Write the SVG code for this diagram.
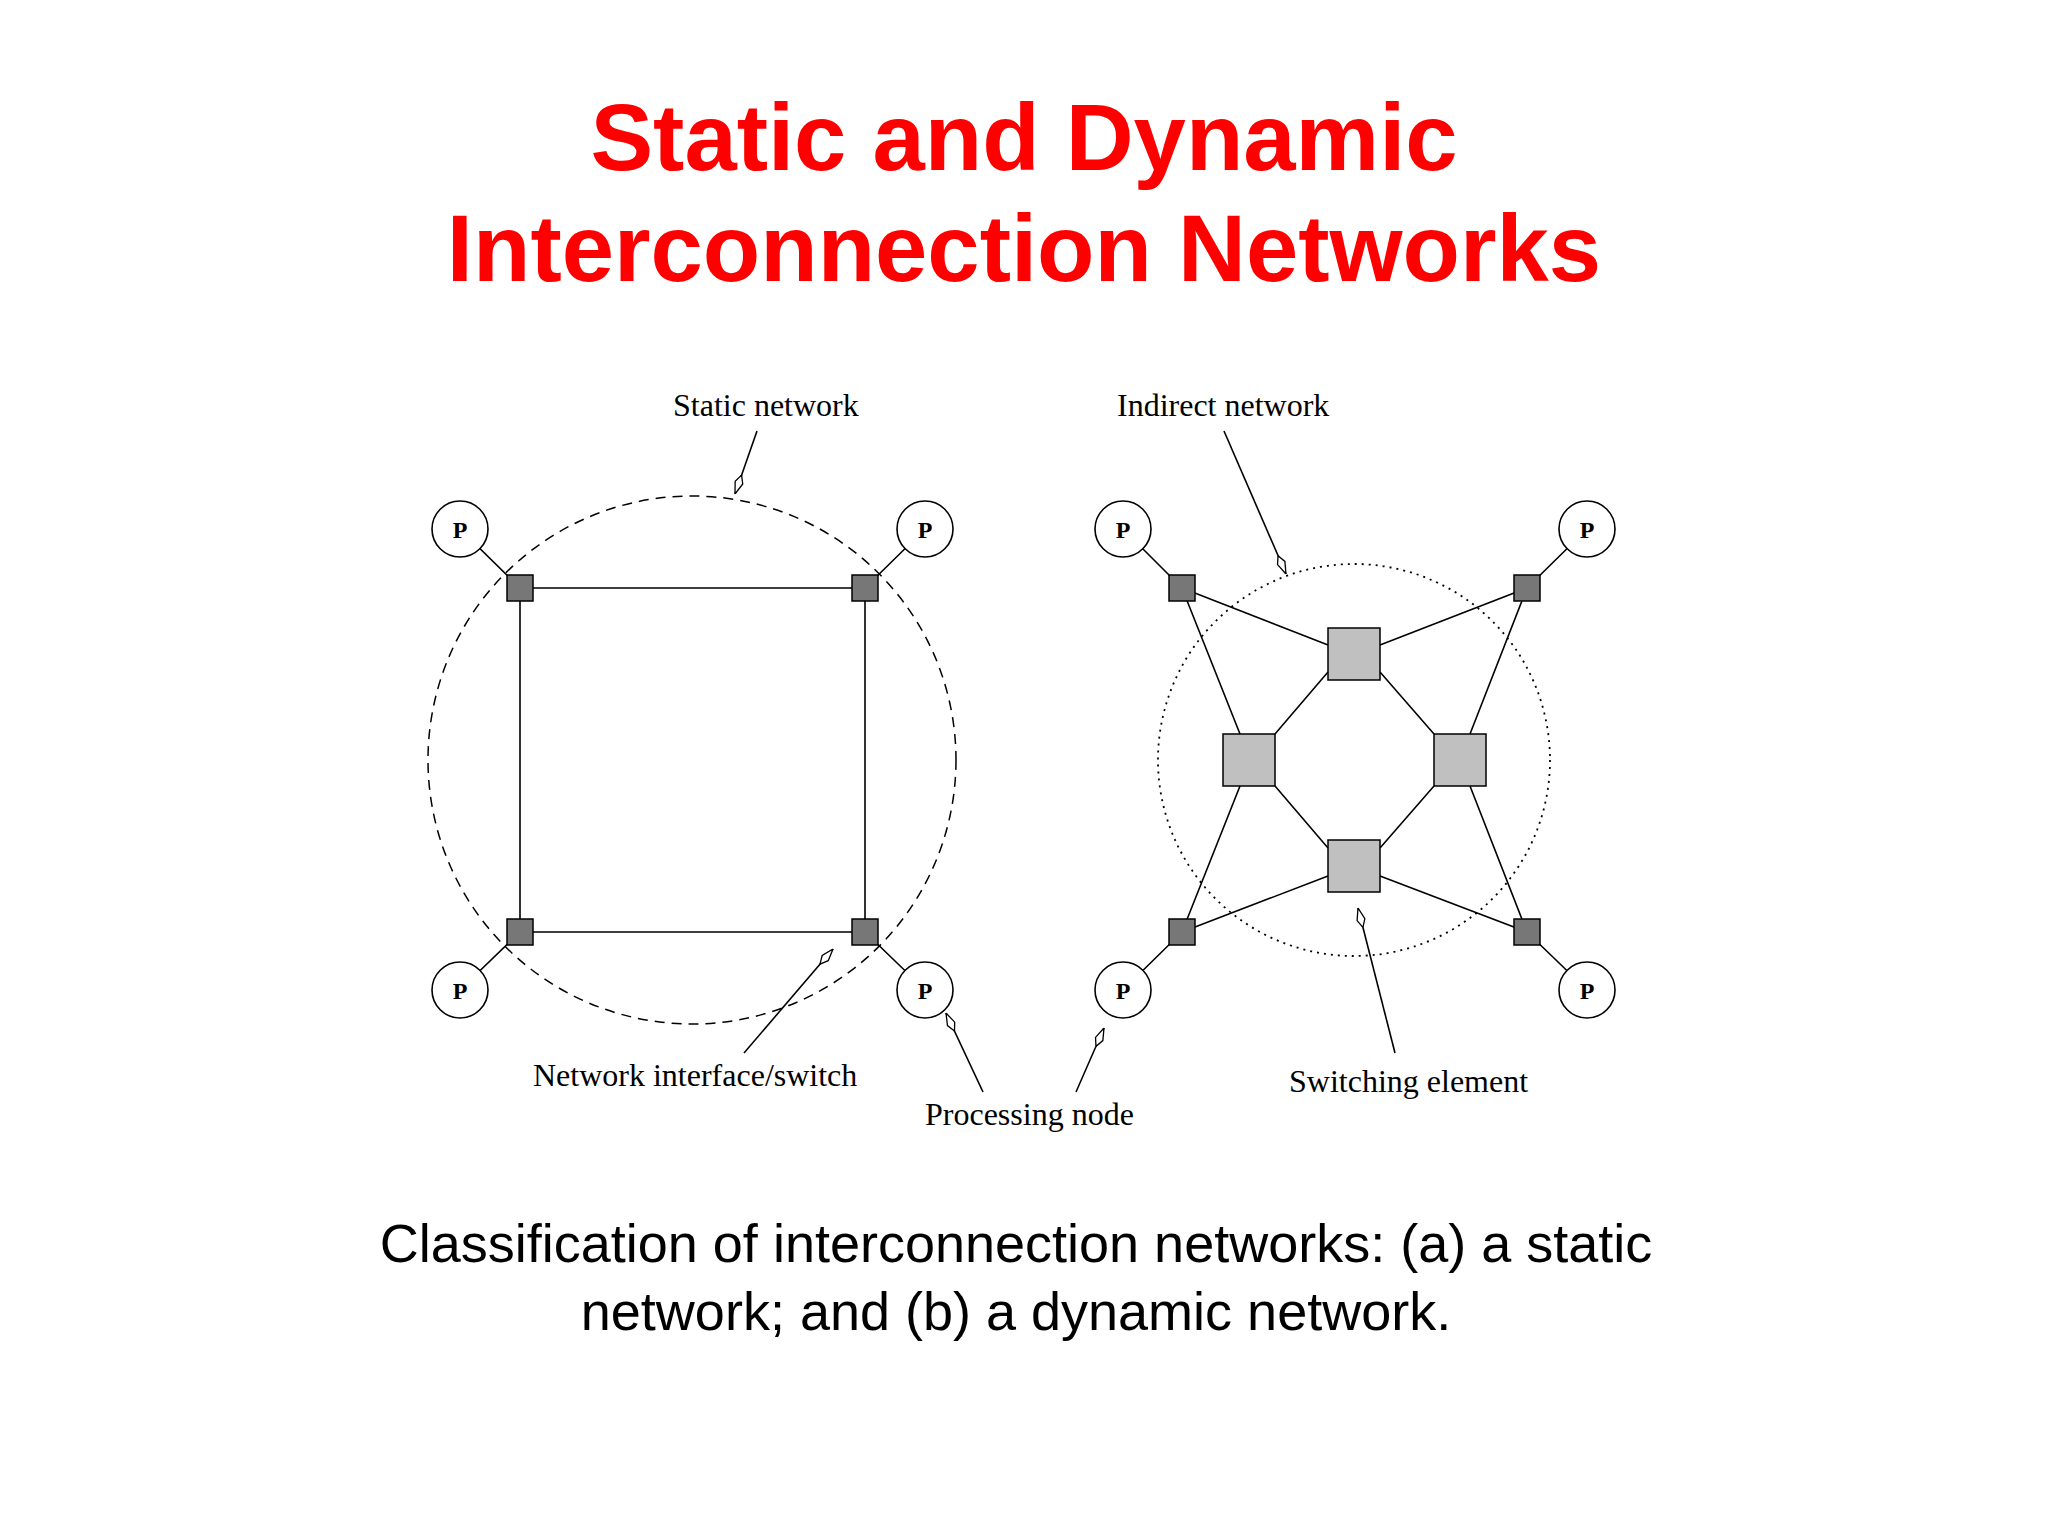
<svg xmlns="http://www.w3.org/2000/svg" width="2048" height="1536" viewBox="0 0 2048 1536">
<style>
.t{font-family:"Liberation Sans",Arial,sans-serif;font-weight:bold;font-size:94px;fill:#ff0000;text-anchor:middle}
.c{font-family:"Liberation Sans",Arial,sans-serif;font-size:54px;fill:#000;text-anchor:middle}
.l{font-family:"Liberation Serif","Times New Roman",serif;font-size:32px;fill:#000}
.p{font-family:"Liberation Serif","Times New Roman",serif;font-size:24px;font-weight:bold;fill:#000;text-anchor:middle}
.ln{stroke:#000;stroke-width:1.6;fill:none}
.sq{fill:#777;stroke:#000;stroke-width:1.5}
.sw{fill:#c0c0c0;stroke:#000;stroke-width:1.5}
.pc{fill:#fff;stroke:#000;stroke-width:1.6}
</style>
<defs>
<marker id="a" viewBox="0 0 20 10" refX="20" refY="5" markerWidth="20" markerHeight="10" markerUnits="userSpaceOnUse" orient="auto">
<polygon points="0,5 8,1 20,5 8,9" fill="#fff" stroke="#000" stroke-width="1.3"/>
</marker>
</defs>
<rect width="2048" height="1536" fill="#fff"/>
<text class="t" x="1024" y="170">Static and Dynamic</text>
<text class="t" x="1024" y="281">Interconnection Networks</text>
<g id="static-boundary"><circle cx="692" cy="760" r="264" fill="none" stroke="#000" stroke-width="1.5" stroke-dasharray="10,7"/></g>
<g id="indirect-boundary"><circle cx="1354" cy="760" r="196" fill="none" stroke="#000" stroke-width="1.8" stroke-dasharray="2,5"/></g>
<g id="connectors">
<path class="ln" d="M520 588H865V932H520Z"/>
<path class="ln" d="M460 529L520 588M925 529L865 588M460 990L520 932M925 990L865 932"/>
<path class="ln" d="M1123 529L1182 588M1587 529L1527 588M1123 990L1182 932M1587 990L1527 932"/>
<path class="ln" d="M1182 588L1328 645M1182 588L1240 734M1527 588L1380 645M1527 588L1470 734M1182 932L1328 876M1182 932L1240 786M1527 932L1380 876M1527 932L1470 786"/>
<path class="ln" d="M1328 672L1275 734M1380 672L1434 734M1275 786L1328 848M1434 786L1380 848"/>
<path class="ln" d="M757 431L735 494" marker-end="url(#a)"/>
<path class="ln" d="M1224 431L1286 574" marker-end="url(#a)"/>
<path class="ln" d="M744 1053L833 949" marker-end="url(#a)"/>
<path class="ln" d="M983 1092L946 1013" marker-end="url(#a)"/>
<path class="ln" d="M1076 1092L1104 1028" marker-end="url(#a)"/>
<path class="ln" d="M1395 1053L1358 908" marker-end="url(#a)"/>
</g>
<g id="switches-a"><rect class="sq" x="507" y="575" width="26" height="26"/><rect class="sq" x="852" y="575" width="26" height="26"/><rect class="sq" x="507" y="919" width="26" height="26"/><rect class="sq" x="852" y="919" width="26" height="26"/></g>
<g id="switches-b"><rect class="sq" x="1169" y="575" width="26" height="26"/><rect class="sq" x="1514" y="575" width="26" height="26"/><rect class="sq" x="1169" y="919" width="26" height="26"/><rect class="sq" x="1514" y="919" width="26" height="26"/></g>
<g id="switching-elements"><rect class="sw" x="1328" y="628" width="52" height="52"/><rect class="sw" x="1223" y="734" width="52" height="52"/><rect class="sw" x="1434" y="734" width="52" height="52"/><rect class="sw" x="1328" y="840" width="52" height="52"/></g>
<g id="processors">
<circle class="pc" cx="460" cy="529" r="28"/><text class="p" x="460" y="538">P</text>
<circle class="pc" cx="925" cy="529" r="28"/><text class="p" x="925" y="538">P</text>
<circle class="pc" cx="460" cy="990" r="28"/><text class="p" x="460" y="999">P</text>
<circle class="pc" cx="925" cy="990" r="28"/><text class="p" x="925" y="999">P</text>
<circle class="pc" cx="1123" cy="529" r="28"/><text class="p" x="1123" y="538">P</text>
<circle class="pc" cx="1587" cy="529" r="28"/><text class="p" x="1587" y="538">P</text>
<circle class="pc" cx="1123" cy="990" r="28"/><text class="p" x="1123" y="999">P</text>
<circle class="pc" cx="1587" cy="990" r="28"/><text class="p" x="1587" y="999">P</text>
</g>
<g id="labels">
<text class="l" x="673" y="416">Static network</text>
<text class="l" x="1117" y="416">Indirect network</text>
<text class="l" x="533" y="1086">Network interface/switch</text>
<text class="l" x="925" y="1125">Processing node</text>
<text class="l" x="1289" y="1092">Switching element</text>
</g>
<text class="c" x="1016" y="1262">Classification of interconnection networks: (a) a static</text>
<text class="c" x="1016" y="1330">network; and (b) a dynamic network.</text>
</svg>
